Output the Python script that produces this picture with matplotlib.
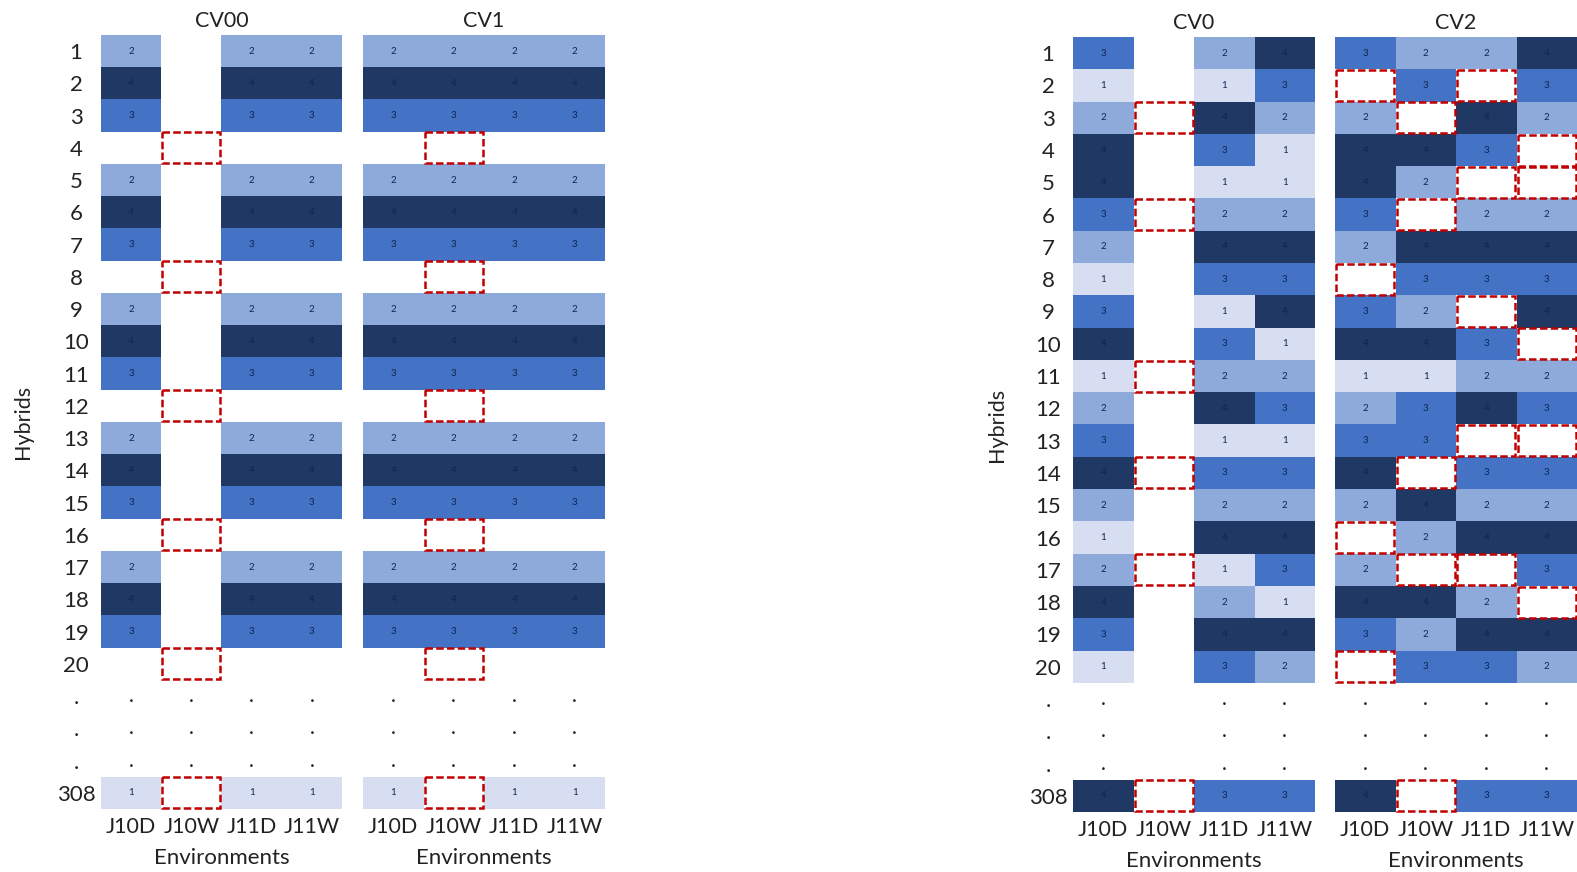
import numpy as np
import matplotlib
matplotlib.use("Agg")
import matplotlib.pyplot as plt
from matplotlib.colors import ListedColormap, BoundaryNorm
from matplotlib.patches import Rectangle

plt.rcParams['font.family'] = ['Lato', 'DejaVu Sans']

# Row labels (hybrids) and column labels (environments)
hybrids = [str(i) for i in range(1, 21)] + ['.', '.', '.', '308']
envs = ['J10D', 'J10W', 'J11D', 'J11W']

# Cell values per scheme: 1-4 = group, 0 = not observed, -1 = masked (test set)
# Rows are hybrids 1..20 followed by hybrid 308
cv00 = [
    [2, 0, 2, 2], [4, 0, 4, 4], [3, 0, 3, 3], [0, -1, 0, 0],
    [2, 0, 2, 2], [4, 0, 4, 4], [3, 0, 3, 3], [0, -1, 0, 0],
    [2, 0, 2, 2], [4, 0, 4, 4], [3, 0, 3, 3], [0, -1, 0, 0],
    [2, 0, 2, 2], [4, 0, 4, 4], [3, 0, 3, 3], [0, -1, 0, 0],
    [2, 0, 2, 2], [4, 0, 4, 4], [3, 0, 3, 3], [0, -1, 0, 0],
    [1, -1, 1, 1],
]
cv1 = [
    [2, 2, 2, 2], [4, 4, 4, 4], [3, 3, 3, 3], [0, -1, 0, 0],
    [2, 2, 2, 2], [4, 4, 4, 4], [3, 3, 3, 3], [0, -1, 0, 0],
    [2, 2, 2, 2], [4, 4, 4, 4], [3, 3, 3, 3], [0, -1, 0, 0],
    [2, 2, 2, 2], [4, 4, 4, 4], [3, 3, 3, 3], [0, -1, 0, 0],
    [2, 2, 2, 2], [4, 4, 4, 4], [3, 3, 3, 3], [0, -1, 0, 0],
    [1, -1, 1, 1],
]
cv0 = [
    [3, 0, 2, 4], [1, 0, 1, 3], [2, -1, 4, 2], [4, 0, 3, 1],
    [4, 0, 1, 1], [3, -1, 2, 2], [2, 0, 4, 4], [1, 0, 3, 3],
    [3, 0, 1, 4], [4, 0, 3, 1], [1, -1, 2, 2], [2, 0, 4, 3],
    [3, 0, 1, 1], [4, -1, 3, 3], [2, 0, 2, 2], [1, 0, 4, 4],
    [2, -1, 1, 3], [4, 0, 2, 1], [3, 0, 4, 4], [1, 0, 3, 2],
    [4, -1, 3, 3],
]
cv2 = [
    [3, 2, 2, 4], [-1, 3, -1, 3], [2, -1, 4, 2], [4, 4, 3, -1],
    [4, 2, -1, -1], [3, -1, 2, 2], [2, 4, 4, 4], [-1, 3, 3, 3],
    [3, 2, -1, 4], [4, 4, 3, -1], [1, 1, 2, 2], [2, 3, 4, 3],
    [3, 3, -1, -1], [4, -1, 3, 3], [2, 4, 2, 2], [-1, 2, 4, 4],
    [2, -1, -1, 3], [4, 4, 2, -1], [3, 2, 4, 4], [-1, 3, 3, 2],
    [4, -1, 3, 3],
]
# columns that show the ellipsis dots
dots_cv00 = [0, 1, 2, 3]
dots_cv1 = [0, 1, 2, 3]
dots_cv0 = [0, 2, 3]
dots_cv2 = [0, 1, 2, 3]

colors = ['#d7def1', '#8eaadb', '#4472c4', '#203864']
cmap = ListedColormap(colors)
norm = BoundaryNorm([0.5, 1.5, 2.5, 3.5, 4.5], cmap.N)
txt = '#222222'

W, H = 1577, 872
fig = plt.figure(figsize=(W / 100, H / 100), dpi=100)


def add_ax(x0, x1, y0, y1):
    return fig.add_axes([x0 / W, 1 - y1 / H, (x1 - x0) / W, (y1 - y0) / H])


def draw_grid(ax, data, dot_cols, title, show_rows, xlab_pad):
    rows = data[:20] + [[0] * 4] * 3 + data[20:]
    arr = np.array(rows, dtype=float)
    shown = np.ma.masked_less_equal(arr, 0)
    ax.pcolormesh(np.arange(5), np.arange(25), shown, cmap=cmap, norm=norm)
    for r in range(arr.shape[0]):
        for c in range(arr.shape[1]):
            v = arr[r, c]
            if v > 0:
                ax.text(c + 0.5, r + 0.5, str(int(v)), ha='center', va='center',
                        fontsize=7, color='#0f2550')
            elif v < 0:
                ax.add_patch(Rectangle((c + 0.02, r + 0.02), 0.96, 0.96, fill=False,
                                       edgecolor='#c00000', lw=1.8,
                                       linestyle=(0, (3, 1.3)), clip_on=False, zorder=3))
    for r in (20, 21, 22):
        for c in dot_cols:
            ax.text(c + 0.5, r + 0.5, '.', ha='center', va='center', fontsize=15,
                    color=txt)
    ax.set_xlim(0, 4)
    ax.set_ylim(24, 0)
    ax.set_xticks(np.arange(4) + 0.5)
    ax.set_xticklabels(envs, fontsize=15.5, color=txt)
    ax.set_yticks(np.arange(24) + 0.5)
    if show_rows:
        ax.set_yticklabels(hybrids, fontsize=16, color=txt)
        for lbl in ax.get_yticklabels():
            lbl.set_ha('center')
    else:
        ax.set_yticklabels([])
    ax.tick_params(axis='y', length=0, pad=18)
    ax.tick_params(axis='x', length=0, pad=5.5)
    for s in ax.spines.values():
        s.set_visible(False)
    ax.set_title(title, fontsize=15.5, color=txt, pad=6)
    ax.set_xlabel('Environments', fontsize=16, color=txt, labelpad=xlab_pad)


# left panel
draw_grid(add_ax(101, 342, 35, 809), cv00, dots_cv00, 'CV00', True, 8.5)
draw_grid(add_ax(363, 605, 35, 809), cv1, dots_cv1, 'CV1', False, 8.5)
fig.text(23 / W, 1 - 422 / H, 'Hybrids', rotation=90, ha='center', va='center',
         fontsize=15.5, color=txt)

# right panel
draw_grid(add_ax(1073, 1315, 37, 812), cv0, dots_cv0, 'CV0', True, 8)
draw_grid(add_ax(1335, 1577, 37, 812), cv2, dots_cv2, 'CV2', False, 8)
fig.text(997 / W, 1 - 425 / H, 'Hybrids', rotation=90, ha='center', va='center',
         fontsize=15.5, color=txt)

fig.savefig('out.png', dpi=100)
